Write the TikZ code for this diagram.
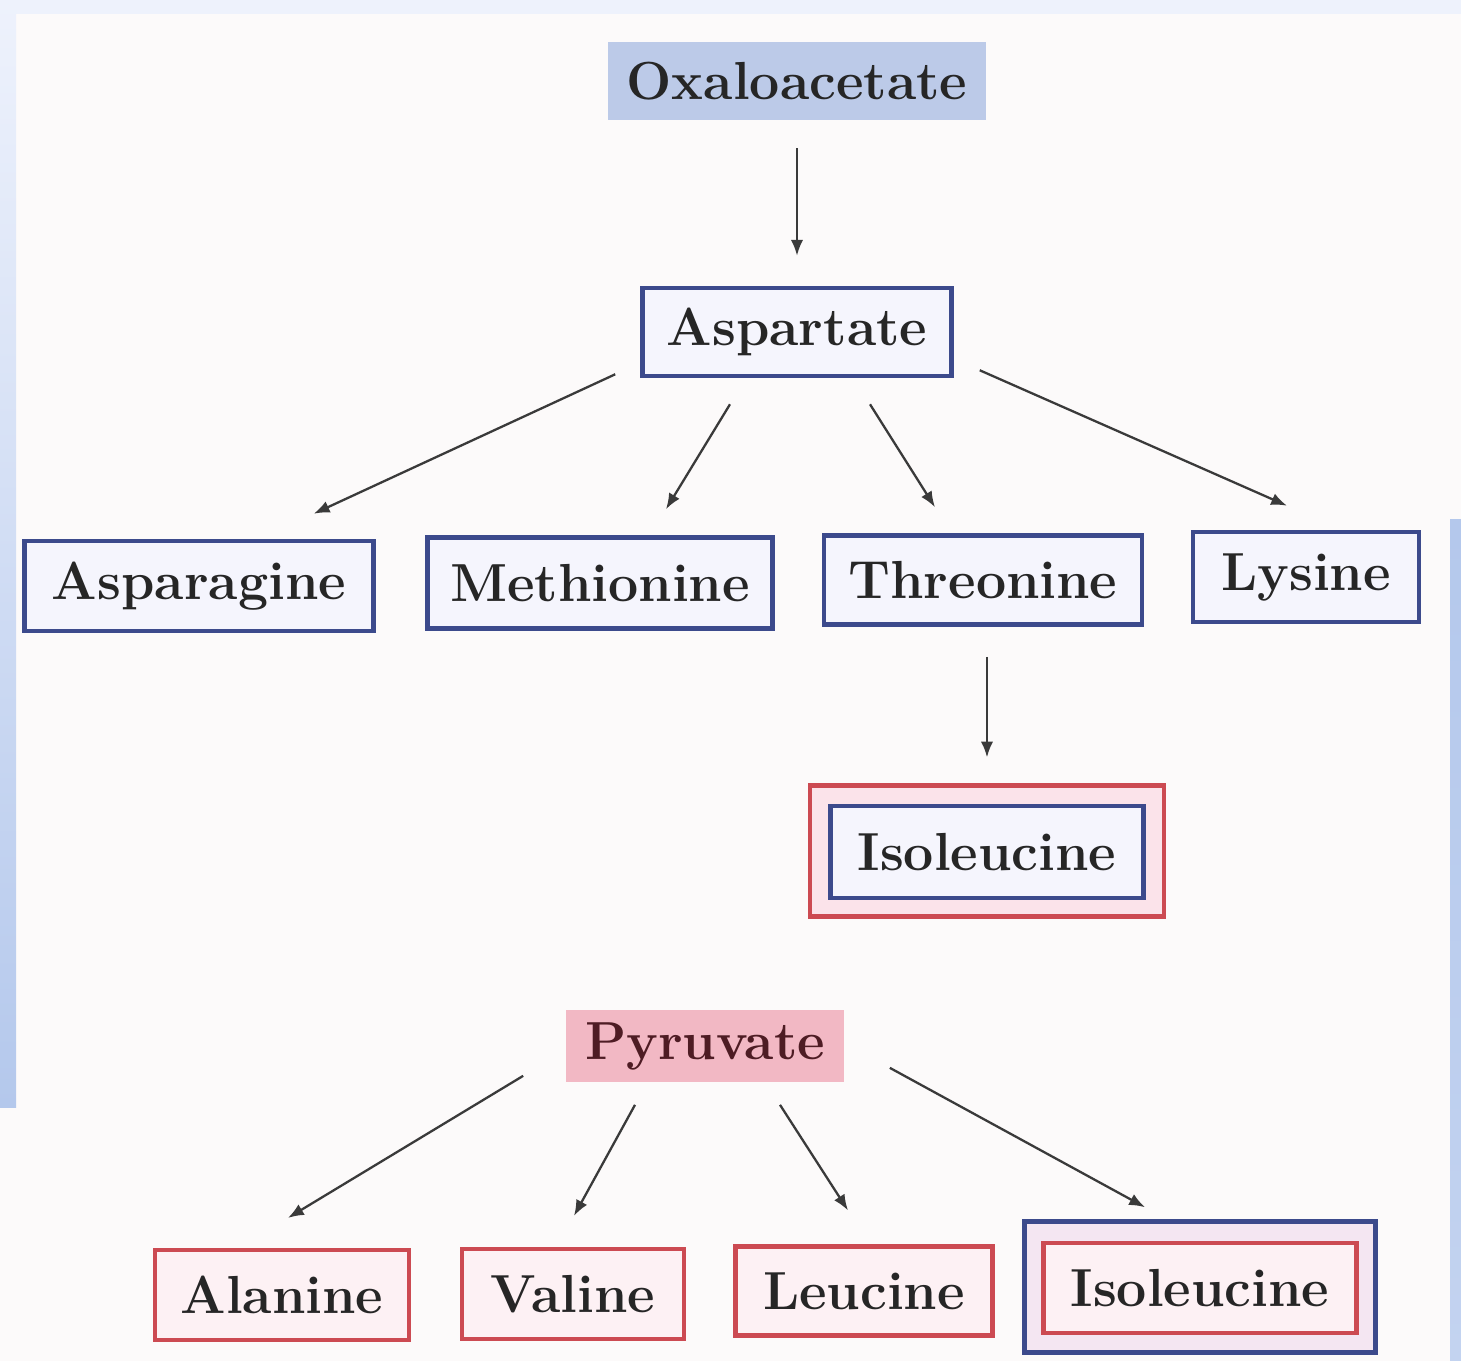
\documentclass[tikz,border=0pt]{standalone}
\usepackage{xcolor}
\usepackage{tikz}
\usetikzlibrary{shapes,arrows,positioning,calc,arrows.meta}

\definecolor{bgpaper}{HTML}{FCFAFA}
\definecolor{framelight}{HTML}{EEF2FC}
\definecolor{framemid}{HTML}{B4C8EC}
\definecolor{aablue}{HTML}{3C4A8C}
\definecolor{aared}{HTML}{CC4A52}
\definecolor{oxafill}{HTML}{BCCAE8}
\definecolor{pyrfill}{HTML}{F2B8C4}
\definecolor{bluein}{HTML}{F5F5FD}
\definecolor{redin}{HTML}{FDF1F4}
\definecolor{gapred}{HTML}{FBE3EA}
\definecolor{gapblue}{HTML}{F4E6F2}
\definecolor{inkdark}{HTML}{262626}
\definecolor{inkred}{HTML}{4E1C24}
\definecolor{arrowgray}{HTML}{3A3A3A}

\begin{document}
\begin{tikzpicture}[x=0.02cm,y=-0.02cm,
    label/.style={inner sep=0pt,font=\fontsize{30.5}{34}\selectfont\bfseries,text=inkdark},
    srcbox/.style={label,rectangle},
    bluebox/.style={label,draw=aablue,line width=2.6pt,fill=bluein},
    redbox/.style={label,draw=aared,line width=2.4pt,fill=redin},
    arr/.style={draw=arrowgray,line width=1.3pt,-{Latex[length=9pt,width=7pt]}}]
    \useasboundingbox (0,0) rectangle (1461,1361);
    % paper and slide frame
    \fill[bgpaper] (0,0) rectangle (1461,1361);
    \fill[framelight] (0,0) rectangle (1461,14);
    \shade[top color=framelight,bottom color=framemid] (0,0) rectangle (16,1107);
    \shade[top color=framemid,bottom color=framemid!80] (1450,520) rectangle (1461,1361);

    % Oxaloacetate family
    \node[srcbox,fill=oxafill,minimum width=7.56cm,minimum height=1.56cm] (oxa) at (797,81) {Oxaloacetate};
    \node[bluebox,minimum width=6.18cm,minimum height=1.76cm] (asp) at (797,332) {Aspartate};
    \draw[arr,shorten <=0.56cm,shorten >=0.6cm] (oxa.south) -- (asp.north);

    \node[bluebox,minimum width=6.98cm,minimum height=1.80cm] (asn) at (199,586) {Asparagine};
    \node[bluebox,minimum width=6.90cm,minimum height=1.82cm] (met) at (600,583) {Methionine};
    \node[bluebox,minimum width=6.36cm,minimum height=1.78cm] (thr) at (983,580) {Threonine};
    \node[bluebox,minimum width=4.52cm,minimum height=1.80cm] (lys) at (1306,577) {Lysine};

    \draw[arr] ($(asp.south west)+(-25,-4)$) -- ($(asn.north east)+(-62,-25)$);
    \draw[arr] ($(asp.south)+(-67,26)$) -- ($(met.north)+(66,-26)$);
    \draw[arr] ($(asp.south)+(73,26)$) -- ($(thr.north)+(-48,-26)$);
    \draw[arr] ($(asp.south east)+(26,-8)$) -- ($(lys.north)+(-19,-24)$);

    % Isoleucine, red outside blue
    \node[draw=aared,line width=2.4pt,fill=gapred,minimum width=7.08cm,minimum height=2.62cm] (ileA) at (987,851) {};
    \node[bluebox,minimum width=6.26cm,minimum height=1.84cm] (ileAin) at (987,852) {Isoleucine};
    \draw[arr,shorten <=0.6cm,shorten >=0.52cm] (thr.south -| ileA.north) -- (ileA.north);

    % Pyruvate family
    \node[srcbox,fill=pyrfill,text=inkred,minimum width=5.58cm,minimum height=1.46cm] (pyr) at (705,1046) {Pyruvate};
    \node[redbox,minimum width=5.08cm,minimum height=1.80cm] (ala) at (282,1295) {Alanine};
    \node[redbox,minimum width=4.44cm,minimum height=1.80cm] (val) at (573,1294) {Valine};
    \node[redbox,minimum width=5.14cm,minimum height=1.78cm] (leu) at (864,1291) {Leucine};
    % Isoleucine, blue outside red
    \node[draw=aablue,line width=2.6pt,fill=gapblue,minimum width=7.02cm,minimum height=2.62cm] (ileB) at (1200,1287) {};
    \node[redbox,minimum width=6.26cm,minimum height=1.80cm] (ileBin) at (1200,1288) {Isoleucine};

    \draw[arr] ($(pyr.south west)+(-42,-7)$) -- ($(ala.north)+(6,-30)$);
    \draw[arr] ($(pyr.south)+(-70,22)$) -- ($(val.north)+(1,-31)$);
    \draw[arr] ($(pyr.south)+(75,22)$) -- ($(leu.north)+(-16,-34)$);
    \draw[arr] ($(pyr.south east)+(45,-15)$) -- ($(ileB.north)+(-55,-12)$);
\end{tikzpicture}
\end{document}
